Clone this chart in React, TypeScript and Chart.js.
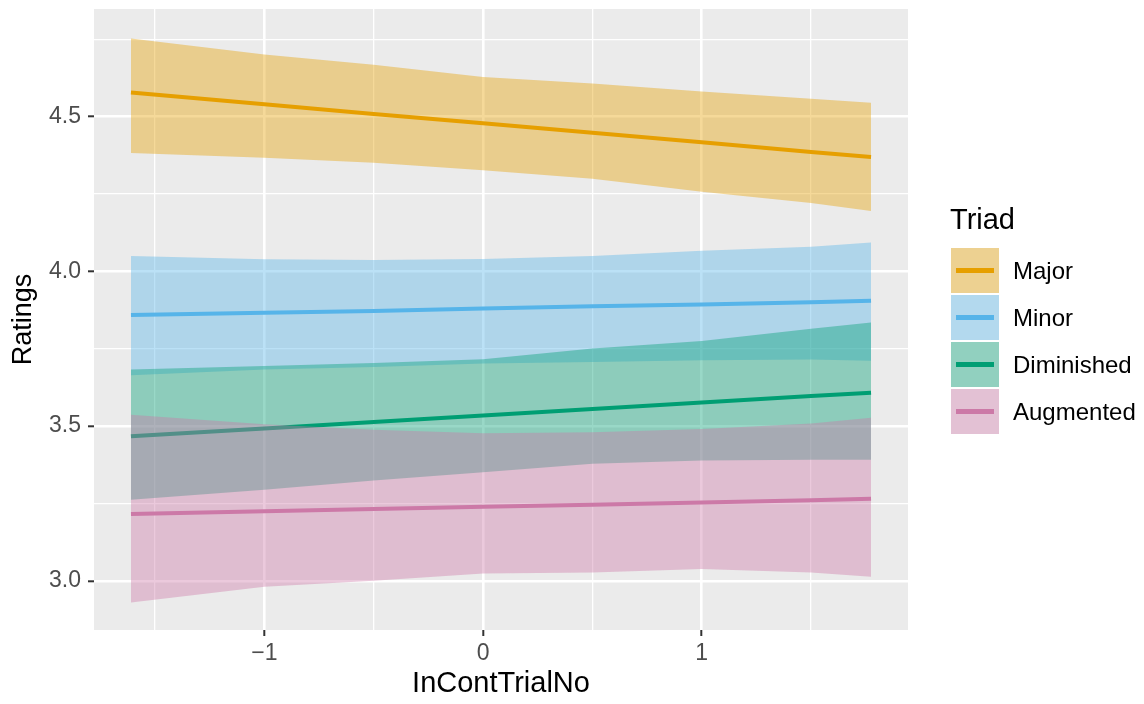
import React, { useEffect, useRef } from "react";
import { Chart, registerables } from "chart.js";

Chart.register(...registerables);

// Fitted trends (with confidence bands) of ratings against InContTrialNo, one per triad
const triads = ["Major", "Minor", "Diminished", "Augmented"];
const lineColors = ["#E69F00", "#56B4E9", "#009E73", "#CC79A7"];
const bandColors = [
  "rgba(230,159,0,0.4)",
  "rgba(86,180,233,0.4)",
  "rgba(0,158,115,0.4)",
  "rgba(204,121,167,0.4)",
];

const trialNo = [-1.61, -1, -0.5, 0, 0.5, 1, 1.5, 1.774];

const majorUpper = [4.753, 4.701, 4.668, 4.628, 4.607, 4.581, 4.558, 4.545];
const majorFit = [4.578, 4.540, 4.509, 4.479, 4.448, 4.417, 4.386, 4.370];
const majorLower = [4.383, 4.367, 4.351, 4.327, 4.299, 4.257, 4.221, 4.195];

const minorUpper = [4.050, 4.039, 4.037, 4.040, 4.050, 4.067, 4.080, 4.093];
const minorFit = [3.859, 3.866, 3.872, 3.880, 3.887, 3.893, 3.900, 3.905];
const minorLower = [3.664, 3.683, 3.691, 3.702, 3.707, 3.713, 3.715, 3.711];

const dimUpper = [3.683, 3.694, 3.704, 3.716, 3.751, 3.775, 3.815, 3.835];
const dimFit = [3.467, 3.492, 3.513, 3.534, 3.555, 3.576, 3.597, 3.608];
const dimLower = [3.262, 3.294, 3.324, 3.351, 3.378, 3.389, 3.391, 3.391];

const augUpper = [3.537, 3.506, 3.488, 3.477, 3.480, 3.491, 3.508, 3.527];
const augFit = [3.216, 3.225, 3.232, 3.239, 3.246, 3.253, 3.260, 3.265];
const augLower = [2.930, 2.981, 3.000, 3.024, 3.027, 3.038, 3.027, 3.013];

const uppers = [majorUpper, minorUpper, dimUpper, augUpper];
const fits = [majorFit, minorFit, dimFit, augFit];
const lowers = [majorLower, minorLower, dimLower, augLower];

const xTickValues = [-1.5, -1, -0.5, 0, 0.5, 1, 1.5];
const xTickLabels: Record<string, string> = { "-1": "\u22121", "0": "0", "1": "1" };
const yTickValues = [3, 3.25, 3.5, 3.75, 4, 4.25, 4.5, 4.75];
const yTickLabels: Record<string, string> = { "3": "3.0", "3.5": "3.5", "4": "4.0", "4.5": "4.5" };

const FONT = "'Liberation Sans', Arial, Helvetica, sans-serif";
const W = 1144;
const H = 704;

const pts = (ys: number[]) => trialNo.map((x, i) => ({ x, y: ys[i] }));

const panelBackground = {
  id: "panelBackground",
  beforeDraw(chart: any) {
    const { ctx, chartArea } = chart;
    ctx.save();
    ctx.fillStyle = "#EBEBEB";
    ctx.fillRect(chartArea.left, chartArea.top, chartArea.right - chartArea.left, chartArea.bottom - chartArea.top);
    ctx.restore();
  },
};

export default function App() {
  const canvasRef = useRef<HTMLCanvasElement | null>(null);

  useEffect(() => {
    if (!canvasRef.current) return;
    const datasets: any[] = [];
    triads.forEach((name, g) => {
      const base = (3 - g) * 3;
      datasets.push({
        label: name + " upper",
        data: pts(uppers[g]),
        borderColor: "rgba(0,0,0,0)",
        borderWidth: 0,
        backgroundColor: bandColors[g],
        fill: "+1",
        pointRadius: 0,
        order: base + 2,
      });
      datasets.push({
        label: name + " lower",
        data: pts(lowers[g]),
        borderColor: "rgba(0,0,0,0)",
        borderWidth: 0,
        fill: false,
        pointRadius: 0,
        order: base + 1,
      });
      datasets.push({
        label: name,
        data: pts(fits[g]),
        borderColor: lineColors[g],
        borderWidth: 4,
        fill: false,
        pointRadius: 0,
        order: base,
      });
    });

    const isMajorX = (v: number) => Number.isInteger(v);
    const isMajorY = (v: number) => Math.abs(v * 2 - Math.round(v * 2)) < 1e-6;

    const chart = new Chart(canvasRef.current, {
      type: "line",
      data: { datasets },
      plugins: [panelBackground],
      options: {
        animation: false,
        responsive: false,
        events: [],
        layout: { padding: { left: 0, right: W - 908, top: 9, bottom: 0 } },
        plugins: { legend: { display: false }, tooltip: { enabled: false } },
        scales: {
          x: {
            type: "linear",
            min: -1.779,
            max: 1.943,
            afterBuildTicks: (s: any) => {
              s.ticks = xTickValues.map((v) => ({ value: v }));
            },
            afterFit: (s: any) => {
              s.height = H - 630;
              s.paddingLeft = 0;
              s.paddingRight = 0;
            },
            border: { display: false },
            grid: {
              color: "#FFFFFF",
              lineWidth: (c: any) => (isMajorX(c.tick.value) ? 2.6 : 1.3),
              drawTicks: true,
              tickLength: 6,
              tickWidth: 2,
              tickColor: (c: any) => (isMajorX(c.tick.value) ? "#333333" : "rgba(0,0,0,0)"),
            },
            ticks: {
              autoSkip: false,
              maxRotation: 0,
              padding: 4,
              color: "#4D4D4D",
              font: { family: FONT, size: 23 },
              callback: (v: any) => xTickLabels[String(v)] ?? "",
            },
            title: {
              display: true,
              text: "InContTrialNo",
              color: "#000000",
              font: { family: FONT, size: 29 },
              padding: { top: 0, bottom: 3 },
            },
          },
          y: {
            type: "linear",
            min: 2.841,
            max: 4.848,
            afterBuildTicks: (s: any) => {
              s.ticks = yTickValues.map((v) => ({ value: v }));
            },
            afterFit: (s: any) => {
              s.width = 94;
              s.paddingTop = 0;
              s.paddingBottom = 0;
            },
            border: { display: false },
            grid: {
              color: "#FFFFFF",
              lineWidth: (c: any) => (isMajorY(c.tick.value) ? 2.6 : 1.3),
              drawTicks: true,
              tickLength: 6,
              tickWidth: 2,
              tickColor: (c: any) => (isMajorY(c.tick.value) ? "#333333" : "rgba(0,0,0,0)"),
            },
            ticks: {
              autoSkip: false,
              padding: 7,
              color: "#4D4D4D",
              font: { family: FONT, size: 23 },
              callback: (v: any) => yTickLabels[String(v)] ?? "",
            },
            title: {
              display: true,
              text: "Ratings",
              color: "#000000",
              font: { family: FONT, size: 27 },
              padding: { top: 7, bottom: 0 },
            },
          },
        },
      },
    } as any);
    return () => chart.destroy();
  }, []);

  return (
    <div
      style={{
        position: "fixed",
        left: 0,
        top: 0,
        width: W,
        height: H,
        background: "#FFFFFF",
        fontFamily: FONT,
      }}
    >
      <canvas ref={canvasRef} width={W} height={H} style={{ display: "block" }} />
      <div style={{ position: "absolute", left: 950, top: 205, fontSize: 29, lineHeight: "29px", color: "#000" }}>
        Triad
      </div>
      {triads.map((name, g) => (
        <div
          key={name}
          style={{
            position: "absolute",
            left: 951,
            top: 248 + g * 47,
            height: 45,
            display: "flex",
            alignItems: "center",
          }}
        >
          <div style={{ position: "relative", width: 48, height: 45, background: "#F2F2F2" }}>
            <div style={{ position: "absolute", inset: 0, background: bandColors[g] }} />
            <div
              style={{
                position: "absolute",
                left: 5,
                width: 38,
                top: 20,
                height: 5,
                background: lineColors[g],
              }}
            />
          </div>
          <div style={{ marginLeft: 14, fontSize: 24, color: "#000", whiteSpace: "nowrap" }}>{name}</div>
        </div>
      ))}
    </div>
  );
}
